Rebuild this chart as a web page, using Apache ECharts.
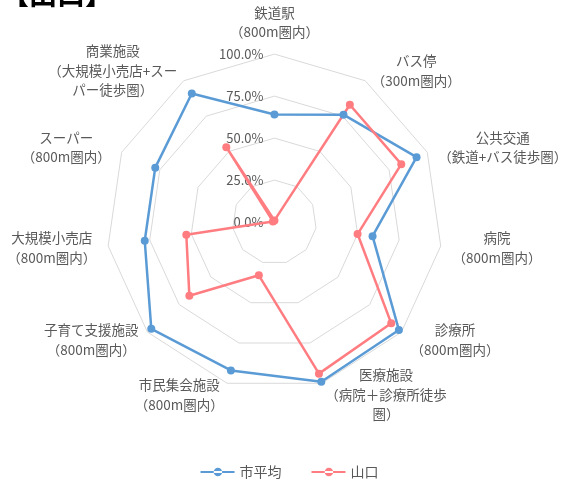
<!DOCTYPE html>
<html>
<head>
<meta charset="utf-8">
<script src="https://cdn.jsdelivr.net/npm/echarts@6/dist/echarts.min.js"></script>
<style>
  html, body { margin: 0; padding: 0; background: #fff; }
  #chart { width: 579px; height: 486px; }
</style>
</head>
<body>
<div id="chart"></div>
<script>
var indicatorNames = [
    '鉄道駅\n（800m圏内）',
    'バス停\n（300m圏内）',
    '公共交通\n（鉄道+バス徒歩圏）',
    '病院\n（800m圏内）',
    '診療所\n（800m圏内）',
    '医療施設\n（病院＋診療所徒歩\n圏）',
    '市民集会施設\n（800m圏内）',
    '子育て支援施設\n（800m圏内）',
    '大規模小売店\n（800m圏内）',
    'スーパー\n（800m圏内）',
    '商業施設\n（大規模小売店+スー\nパー徒歩圏）'
];
var cityAverage = [64, 76, 93, 59, 98, 99, 92, 97, 78, 78, 91];
var yamaguchi = [1, 83, 83, 50, 92, 94, 33, 67, 53, 1, 53];
var seriesNames = ['市平均', '山口'];

var myChart = echarts.init(document.getElementById('chart'));
var font = 'Noto Sans CJK JP';

// radar draws counter-clockwise, the reference goes clockwise
var order = [0];
for (var k = indicatorNames.length - 1; k > 0; k--) order.push(k);
function reorder(arr) { return order.map(function (i) { return arr[i]; }); }

var indicators = reorder(indicatorNames).map(function (n, i) {
    var o = { name: n, min: 0, max: 100 };
    if (i > 0) o.axisLabel = { show: false };
    return o;
});

var legendIcon = 'path://M0,4.2h40v2.6h-40z M15.5,5.5a5,5 0 1,0 10,0a5,5 0 1,0 -10,0z';

option = {
    color: ['#5b9bd5', '#ff7c80'],
    textStyle: { fontFamily: font },
    title: {
        text: '【山口】',
        left: -4,
        top: -25,
        textStyle: { fontSize: 28, fontWeight: 'bold', color: '#000', fontFamily: font }
    },
    legend: {
        bottom: 2,
        left: 'center',
        itemWidth: 34,
        itemHeight: 10,
        itemGap: 30,
        textStyle: { fontSize: 14, color: '#595959', fontFamily: font },
        data: [
            { name: seriesNames[0], icon: legendIcon },
            { name: seriesNames[1], icon: legendIcon }
        ]
    },
    radar: {
        center: ['47.4%', '45.7%'],
        radius: 168,
        shape: 'polygon',
        splitNumber: 4,
        startAngle: 90,
        indicator: indicators,
        axisName: {
            color: '#595959',
            fontSize: 13.5,
            lineHeight: 19.5,
            fontFamily: font,
            formatter: function (name) {
                return name.split('\n').map(function (s) { return '{c|' + s + '}'; }).join('\n');
            },
            rich: {
                c: {
                    align: 'center',
                    color: '#595959',
                    fontSize: 13.5,
                    lineHeight: 19.5,
                    fontFamily: font
                }
            }
        },
        nameGap: 12,
        axisLine: { show: false },
        axisTick: { show: false },
        splitArea: { show: false },
        splitLine: { lineStyle: { color: '#d9d9d9', width: 1 } },
        axisLabel: {
            show: true,
            color: '#595959',
            fontSize: 13,
            fontFamily: font,
            margin: 11,
            formatter: function (v) { return v.toFixed(1) + '%'; }
        }
    },
    series: [
        {
            name: '市平均',
            type: 'radar',
            symbol: 'circle',
            symbolSize: 8,
            lineStyle: { width: 2.5 },
            data: [{ value: reorder(cityAverage), name: '市平均' }]
        },
        {
            name: '山口',
            type: 'radar',
            symbol: 'circle',
            symbolSize: 8,
            lineStyle: { width: 2.5 },
            data: [{ value: reorder(yamaguchi), name: '山口' }]
        }
    ]
};
myChart.setOption(option);
</script>
</body>
</html>
